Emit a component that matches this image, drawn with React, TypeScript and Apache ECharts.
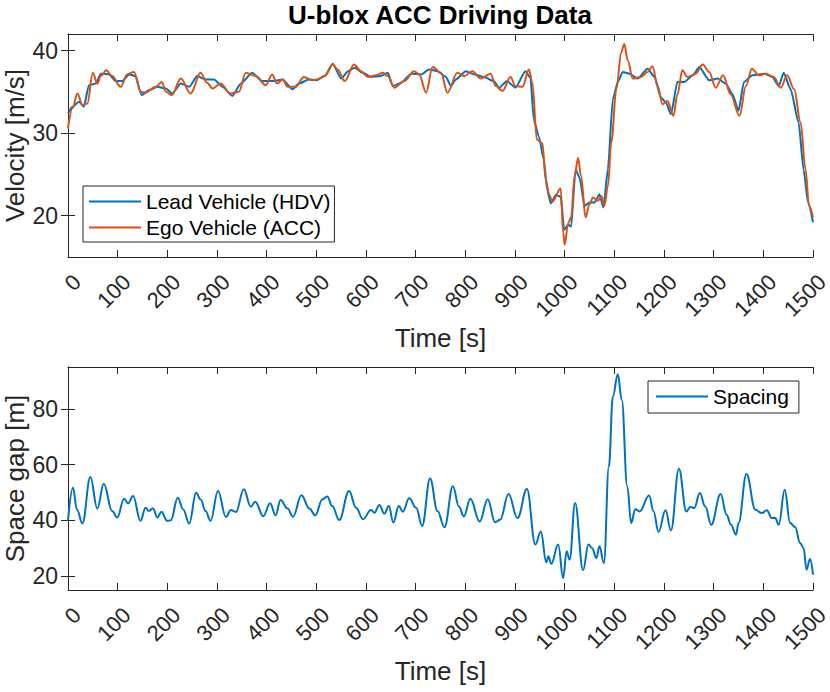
import React, { useEffect, useRef } from 'react';
import * as echarts from 'echarts';

const leadTime = [0, 9, 22, 32, 42, 56, 66, 83, 96, 109, 123, 136, 148, 163, 180, 197, 210, 227, 244, 260, 277, 294, 311, 331, 348, 371, 391, 415, 432, 452, 465, 485, 500, 517, 533, 550, 564, 577, 594, 610, 630, 644, 654, 671, 691, 711, 727, 744, 761, 771, 781, 801, 818, 838, 857, 868, 884, 901, 921, 931, 938, 948, 958, 965, 972, 982, 992, 999, 1007, 1013, 1022, 1030, 1040, 1050, 1060, 1070, 1078, 1087, 1097, 1107, 1117, 1130, 1147, 1167, 1181, 1194, 1204, 1214, 1227, 1241, 1258, 1271, 1291, 1308, 1324, 1338, 1350, 1361, 1378, 1403, 1418, 1431, 1441, 1455, 1471, 1481, 1490, 1500];
const leadVelocity = [32.4, 33.2, 33.8, 33.2, 35.8, 36.0, 37.2, 37.1, 36.3, 36.3, 37.1, 36.9, 34.6, 35.2, 35.6, 35.4, 34.8, 36.0, 35.6, 36.9, 36.5, 36.5, 35.6, 34.5, 36.0, 37.3, 36.3, 36.3, 36.5, 35.3, 36.0, 36.5, 36.4, 36.9, 38.4, 36.6, 37.5, 37.9, 37.3, 36.8, 36.9, 37.3, 35.7, 36.1, 37.2, 37.1, 37.7, 37.5, 36.8, 35.7, 36.5, 37.5, 37.1, 36.8, 36.3, 35.5, 36.3, 35.5, 37.5, 36.7, 31.6, 29.6, 26.8, 23.1, 21.5, 22.5, 22.3, 18.3, 18.9, 18.7, 25.6, 24.6, 21.2, 21.6, 21.6, 22.6, 21.0, 25.6, 34.1, 36.2, 37.4, 37.2, 36.6, 37.8, 36.8, 34.3, 33.7, 32.3, 36.2, 36.2, 37.0, 38.0, 36.4, 36.6, 36.0, 34.7, 32.7, 36.2, 37.0, 37.2, 36.8, 35.7, 37.3, 35.3, 31.3, 25.6, 21.6, 19.2];

const egoTime = [0, 9, 19, 29, 39, 50, 59, 66, 77, 89, 106, 119, 133, 146, 156, 177, 189, 197, 209, 227, 247, 267, 280, 291, 307, 327, 344, 358, 378, 398, 411, 421, 432, 442, 458, 475, 492, 500, 517, 533, 543, 557, 576, 590, 604, 620, 634, 644, 657, 677, 697, 707, 721, 734, 751, 764, 784, 798, 814, 831, 851, 861, 875, 891, 901, 915, 928, 935, 944, 955, 962, 969, 975, 992, 997, 1000, 1007, 1013, 1020, 1027, 1033, 1042, 1050, 1057, 1067, 1074, 1080, 1087, 1094, 1104, 1114, 1120, 1127, 1137, 1154, 1167, 1177, 1187, 1197, 1207, 1219, 1227, 1237, 1247, 1264, 1278, 1291, 1304, 1319, 1334, 1352, 1365, 1377, 1391, 1405, 1421, 1435, 1448, 1462, 1475, 1485, 1492, 1500];
const egoVelocity = [30.6, 33.0, 34.8, 33.4, 33.6, 37.3, 36.0, 36.9, 37.6, 36.9, 35.6, 37.1, 37.4, 35.0, 34.9, 35.6, 36.2, 35.0, 34.6, 36.6, 34.8, 37.3, 36.1, 35.4, 36.0, 34.8, 35.0, 37.3, 36.9, 35.8, 37.1, 36.0, 36.5, 35.6, 35.6, 36.8, 36.4, 36.5, 36.9, 38.3, 37.7, 36.3, 38.3, 37.5, 36.8, 37.0, 37.3, 36.9, 35.5, 36.3, 37.5, 37.1, 34.9, 38.0, 37.3, 34.9, 37.3, 36.9, 37.5, 36.6, 37.2, 35.7, 35.1, 36.8, 35.7, 35.6, 37.7, 36.1, 29.2, 28.8, 24.3, 22.5, 21.7, 23.3, 17.9, 16.5, 19.1, 19.8, 24.8, 27.0, 24.8, 19.8, 21.4, 22.2, 21.8, 22.4, 21.2, 23.6, 28.9, 35.3, 39.8, 40.8, 38.8, 36.6, 36.8, 37.4, 38.1, 35.7, 33.5, 33.9, 32.1, 34.7, 37.6, 36.8, 37.2, 38.3, 37.4, 35.5, 37.0, 34.7, 32.1, 35.7, 37.8, 37.0, 37.2, 36.8, 35.5, 37.0, 35.3, 31.3, 25.6, 21.2, 19.8];

const gapTime = [0, 10, 18, 29, 45, 59, 72, 89, 99, 113, 121, 131, 146, 156, 163, 171, 180, 188, 200, 207, 221, 232, 244, 258, 267, 277, 287, 302, 318, 328, 338, 354, 368, 377, 393, 407, 418, 428, 442, 453, 470, 486, 498, 512, 522, 532, 546, 566, 580, 594, 610, 617, 627, 637, 646, 655, 666, 674, 687, 701, 713, 729, 744, 758, 775, 787, 797, 810, 829, 845, 860, 870, 887, 905, 924, 941, 952, 963, 967, 973, 987, 997, 1004, 1010, 1021, 1037, 1048, 1055, 1064, 1070, 1079, 1089, 1097, 1107, 1115, 1126, 1134, 1142, 1151, 1170, 1179, 1189, 1203, 1214, 1230, 1245, 1253, 1261, 1272, 1283, 1295, 1314, 1326, 1335, 1345, 1350, 1366, 1384, 1397, 1407, 1417, 1424, 1431, 1443, 1454, 1464, 1474, 1481, 1487, 1494, 1500];
const gapSpacing = [40.0, 51.7, 43.9, 38.9, 55.5, 44.2, 53.1, 43.3, 41.0, 47.7, 46.1, 48.7, 39.8, 44.5, 43.3, 44.3, 41.0, 43.1, 39.8, 40.0, 48.1, 43.9, 38.9, 49.9, 47.5, 43.3, 39.8, 50.5, 41.2, 43.7, 43.0, 51.1, 44.9, 46.7, 41.5, 46.1, 41.8, 47.3, 44.2, 41.3, 49.0, 44.2, 41.8, 47.5, 48.5, 45.1, 40.1, 50.5, 44.5, 40.4, 43.7, 42.7, 45.5, 42.4, 45.1, 39.2, 45.1, 43.1, 47.9, 44.5, 38.0, 55.0, 43.3, 37.5, 52.2, 45.0, 41.4, 47.7, 39.6, 47.6, 39.3, 40.2, 49.4, 40.8, 51.2, 31.3, 36.0, 24.9, 27.1, 24.4, 31.3, 19.3, 28.9, 25.9, 46.2, 22.1, 31.3, 30.1, 26.5, 30.7, 24.7, 59.3, 84.4, 92.4, 83.2, 52.2, 39.0, 44.0, 43.2, 48.9, 43.2, 35.8, 43.6, 36.4, 58.5, 43.2, 44.8, 44.4, 49.8, 45.0, 38.4, 49.4, 42.0, 38.4, 34.8, 39.0, 56.6, 43.8, 42.6, 43.6, 40.8, 40.8, 38.4, 51.0, 39.0, 37.6, 31.9, 30.1, 22.3, 26.1, 20.5];

const velocityTicks = [20, 30, 40];
const gapTicks = [20, 40, 60, 80];
const titleText = 'U-blox ACC Driving Data';
const leadName = 'Lead Vehicle (HDV)';
const egoName = 'Ego Vehicle (ACC)';
const gapName = 'Spacing';

const FONT = 'Liberation Sans';
const AX = '#262626';

const zip = (a: number[], b: number[]) => a.map((t, i) => [t, b[i]]);

function xAxes(gridIndex: number) {
  return [
    {
      type: 'value', gridIndex, position: 'bottom', min: 0, max: 1500, interval: 100,
      name: 'Time [s]', nameLocation: 'middle', nameGap: 68, nameMoveOverlap: false,
      nameTextStyle: { fontFamily: FONT, fontSize: 26, color: AX },
      axisLine: { show: true, lineStyle: { color: AX, width: 1 } },
      axisTick: { show: true, inside: true, length: 7, lineStyle: { color: AX } },
      axisLabel: {
        show: true, rotate: 45, fontFamily: FONT, fontSize: 22, color: AX,
        margin: 12, verticalAlign: 'top', lineHeight: 26,
        formatter: (v: number) => String(v),
      },
      splitLine: { show: false },
    },
    {
      type: 'value', gridIndex, position: 'top', min: 0, max: 1500, interval: 100,
      axisLine: { show: true, lineStyle: { color: AX, width: 1 } },
      axisTick: { show: true, inside: true, length: 7, lineStyle: { color: AX } },
      axisLabel: { show: false },
      splitLine: { show: false },
    },
  ];
}

function yAxes(gridIndex: number, min: number, max: number, ticks: number[], name: string) {
  return [
    {
      type: 'value', gridIndex, position: 'left', min, max,
      name, nameLocation: 'middle', nameGap: 40, nameMoveOverlap: false,
      nameTextStyle: { fontFamily: FONT, fontSize: 26, color: AX },
      axisLine: { show: true, lineStyle: { color: AX, width: 1 } },
      axisTick: { show: true, inside: true, length: 7, lineStyle: { color: AX }, customValues: ticks },
      axisLabel: { show: true, fontFamily: FONT, fontSize: 23, color: AX, margin: 10, customValues: ticks },
      splitLine: { show: false },
    },
    {
      type: 'value', gridIndex, position: 'right', min, max,
      axisLine: { show: true, lineStyle: { color: AX, width: 1 } },
      axisTick: { show: true, inside: true, length: 7, lineStyle: { color: AX }, customValues: ticks },
      axisLabel: { show: false, customValues: ticks },
      splitLine: { show: false },
    },
  ];
}

export default function App() {
  const ref = useRef<HTMLDivElement>(null);
  useEffect(() => {
    document.body.style.margin = '0';
    const chart = echarts.init(ref.current!, null, { renderer: 'svg' });
    const legendCommon = {
      orient: 'vertical',
      icon: 'rect',
      itemWidth: 52,
      itemHeight: 2,
      itemGap: 5,
      borderColor: AX,
      borderWidth: 1,
      borderRadius: 0,
      backgroundColor: '#ffffff',
      textStyle: { fontFamily: FONT, fontSize: 21, color: '#000', lineHeight: 21 },
      selectedMode: false,
    };
    chart.setOption({
      animation: false,
      backgroundColor: '#ffffff',
      title: {
        text: titleText, left: 440, top: 2, padding: 0, textAlign: 'center',
        textStyle: { fontFamily: FONT, fontSize: 26, fontWeight: 'bold', color: '#000' },
      },
      grid: [
        { left: 68, right: 17, top: 34, height: 223, containLabel: false, outerBoundsMode: 'none' },
        { left: 68, right: 17, top: 367, height: 223, containLabel: false, outerBoundsMode: 'none' },
      ],
      xAxis: [...xAxes(0), ...xAxes(1)],
      yAxis: [
        ...yAxes(0, 15, 42, velocityTicks, 'Velocity [m/s]'),
        ...yAxes(1, 15, 95, gapTicks, 'Space gap [m]'),
      ],
      legend: [
        { ...legendCommon, data: [leadName, egoName], left: 83, top: 186, padding: [5, 4, 4, 6] },
        { ...legendCommon, data: [gapName], left: 648, top: 381, padding: [5, 10, 6, 8] },
      ],
      series: [
        {
          name: leadName, type: 'line', xAxisIndex: 0, yAxisIndex: 0,
          data: zip(leadTime, leadVelocity), symbol: 'none', smooth: 0.2, smoothMonotone: 'x',
          lineStyle: { color: '#0072BD', width: 2 }, itemStyle: { color: '#0072BD' },
        },
        {
          name: egoName, type: 'line', xAxisIndex: 0, yAxisIndex: 0,
          data: zip(egoTime, egoVelocity), symbol: 'none', smooth: 0.35, smoothMonotone: 'x',
          lineStyle: { color: '#D95319', width: 2 }, itemStyle: { color: '#D95319' },
        },
        {
          name: gapName, type: 'line', xAxisIndex: 2, yAxisIndex: 2,
          data: zip(gapTime, gapSpacing), symbol: 'none', smooth: 0.4, smoothMonotone: 'x',
          lineStyle: { color: '#0072BD', width: 2 }, itemStyle: { color: '#0072BD' },
        },
      ],
    });
    return () => chart.dispose();
  }, []);
  return <div ref={ref} style={{ width: 830, height: 692 }} />;
}
